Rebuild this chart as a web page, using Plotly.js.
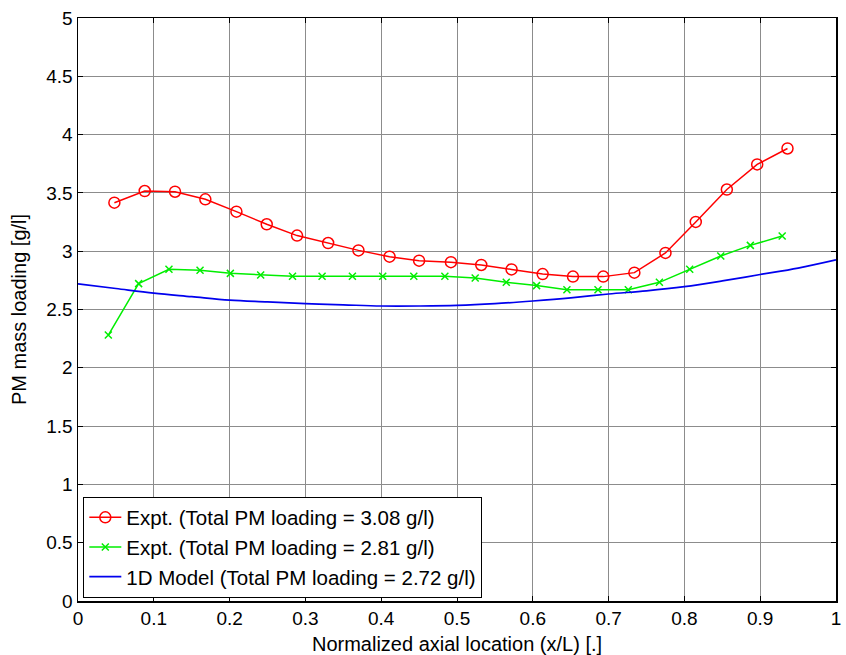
<!DOCTYPE html>
<html>
<head>
<meta charset="utf-8">
<script src="https://cdn.plot.ly/plotly-3.0.1.min.js"></script>
<style>html,body{margin:0;padding:0;background:#fff;}#chart{width:846px;height:655px;}</style>
</head>
<body>
<div id="chart"></div>
<script>
const redX = [0.048,0.088,0.128,0.168,0.209,0.249,0.289,0.330,0.370,0.411,0.450,0.492,0.532,0.572,0.613,0.653,0.693,0.734,0.775,0.815,0.856,0.896,0.936];
const redY = [3.416,3.516,3.510,3.445,3.339,3.231,3.134,3.070,3.007,2.953,2.919,2.906,2.882,2.844,2.804,2.782,2.782,2.816,2.985,3.251,3.529,3.744,3.881];
const greenX = [0.040,0.080,0.120,0.161,0.201,0.241,0.283,0.322,0.362,0.402,0.443,0.484,0.524,0.565,0.605,0.645,0.686,0.726,0.767,0.807,0.848,0.887,0.929];
const greenY = [2.281,2.722,2.845,2.836,2.810,2.796,2.785,2.785,2.785,2.785,2.785,2.785,2.770,2.733,2.705,2.670,2.670,2.670,2.733,2.845,2.959,3.050,3.130];
const modelX = [0,0.05,0.1,0.15,0.2,0.25,0.3,0.35,0.4,0.45,0.5,0.55,0.6,0.65,0.7,0.75,0.8,0.85,0.9,0.95,1.0];
const modelY = [2.72,2.68,2.64,2.61,2.58,2.565,2.55,2.54,2.53,2.53,2.535,2.55,2.573,2.60,2.633,2.66,2.696,2.745,2.80,2.855,2.925];
const names = ['Expt. (Total PM loading = 3.08 g/l)','Expt. (Total PM loading = 2.81 g/l)','1D Model (Total PM loading = 2.72 g/l)'];

const traces = [
  {x: redX, y: redY, name: names[0], mode: 'lines+markers', line: {color: '#ff0000', width: 1.5},
   marker: {symbol: 'circle-open', size: 11, color: '#ff0000', line: {width: 1.5}}},
  {x: greenX, y: greenY, name: names[1], mode: 'lines+markers', line: {color: '#00ee00', width: 1.5},
   marker: {symbol: 'x-thin-open', size: 7, color: '#00ee00', line: {width: 1.5, color: '#00ee00'}}},
  {x: modelX, y: modelY, name: names[2], mode: 'lines', line: {color: '#0000ee', width: 1.7, shape: 'spline'}}
];

const fontFam = 'Liberation Sans, Arial, sans-serif';
const layout = {
  width: 846, height: 655,
  margin: {l: 78, r: 10, t: 18, b: 54},
  paper_bgcolor: '#fff', plot_bgcolor: '#fff',
  font: {family: fontFam, size: 19, color: '#000'},
  showlegend: true,
  xaxis: {
    range: [0, 1], dtick: 0.1, tick0: 0,
    showgrid: true, gridcolor: '#8c8c8c', gridwidth: 1,
    zeroline: false, showline: true, linecolor: '#000', linewidth: 1.5, mirror: 'ticks',
    ticks: 'inside', ticklen: 5, tickcolor: '#000',
    tickfont: {size: 19, family: fontFam},
    title: {text: 'Normalized axial location (x/L) [.]', font: {size: 20, family: fontFam}, standoff: 9}
  },
  yaxis: {
    range: [0, 5], dtick: 0.5, tick0: 0,
    showgrid: true, gridcolor: '#8c8c8c', gridwidth: 1,
    zeroline: false, showline: true, linecolor: '#000', linewidth: 1.5, mirror: 'ticks',
    ticks: 'inside', ticklen: 5, tickcolor: '#000',
    tickfont: {size: 19, family: fontFam},
    title: {text: 'PM mass loading [g/l]', font: {size: 20, family: fontFam}, standoff: 14}
  },
  legend: {
    x: 0.007, y: 0.006, xanchor: 'left', yanchor: 'bottom',
    bgcolor: '#fff', bordercolor: '#000', borderwidth: 1,
    font: {size: 20.5, family: fontFam}, tracegroupgap: 0, itemwidth: 32
  }
};
Plotly.newPlot('chart', traces, layout, {displayModeBar: false, staticPlot: true});
</script>
</body>
</html>
